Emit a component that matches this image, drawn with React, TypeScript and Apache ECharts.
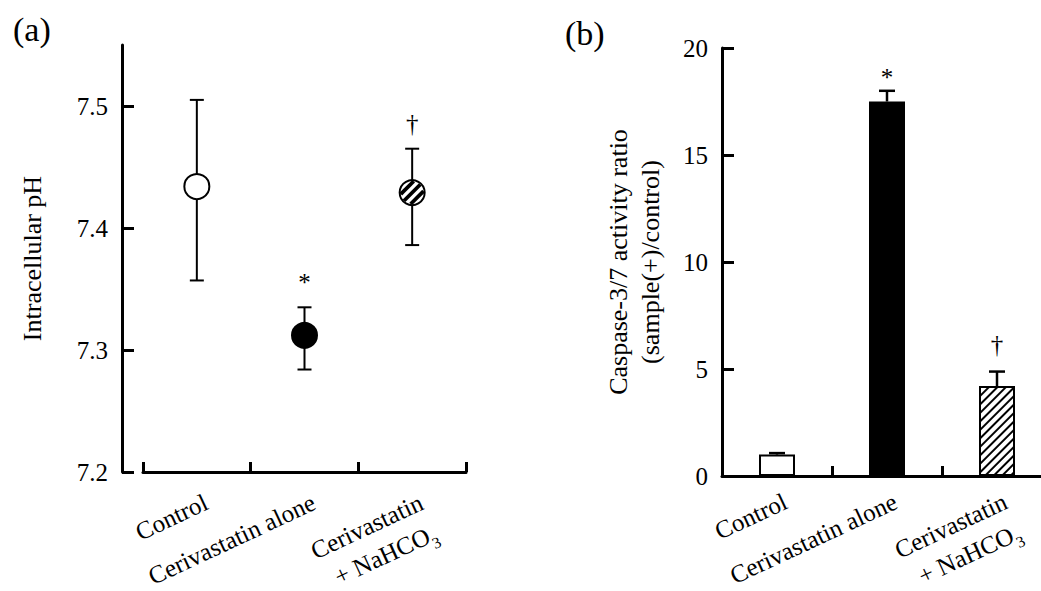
import React, { useEffect, useRef } from 'react';
import * as echarts from 'echarts';

// ---------- data ----------
const categories = ['Control', 'Cerivastatin alone', 'Cerivastatin + NaHCO3'];

// panel (a): intracellular pH (mean, lower / upper end of error bar)
const phMean = [7.434, 7.312, 7.429];
const phLower = [7.357, 7.284, 7.386];
const phUpper = [7.505, 7.335, 7.465];
const phMarks = ['', '*', '†'];
const phTicks = [7.2, 7.3, 7.4, 7.5];

// panel (b): caspase-3/7 activity ratio (mean, upper end of error bar)
const caspaseMean = [1.0, 17.5, 4.2];
const caspaseUpper = [1.07, 18.0, 4.88];
const caspaseMarks = ['', '*', '†'];
const caspaseTicks = [0, 5, 10, 15, 20];

// ---------- styles ----------
const FONT = "'Liberation Serif', 'Times New Roman', Times, serif";
const fills = ['open', 'filled', 'hatched'];

const catFormatter = (v: string) => {
  if (v.indexOf(' + ') >= 0) {
    const [a, b] = v.split(' + ');
    return `{t|${a}}\n{t|+ ${b.slice(0, -1)}}{s|${b.slice(-1)}}`;
  }
  return `{t|${v}}`;
};

const catLabel = (padTop: number, margin: number) => ({
  interval: 0,
  rotate: 25,
  align: 'right',
  verticalAlign: 'top',
  padding: [padTop, 0, 0, 0],
  margin,
  formatter: catFormatter,
  rich: {
    t: { fontSize: 25, fontFamily: FONT, color: '#000', lineHeight: 30 },
    s: { fontSize: 16, fontFamily: FONT, color: '#000', lineHeight: 37, verticalAlign: 'bottom' },
  },
});

const axisLine = { show: true, lineStyle: { color: '#000', width: 3 } };

function hatchedCircle(cx: number, cy: number, r: number) {
  const els: any[] = [
    { type: 'circle', shape: { cx, cy, r }, style: { fill: '#fff', stroke: '#000', lineWidth: 2 } },
  ];
  const inner = r - 1;
  [-7, 0, 7].forEach((s) => {
    const half = Math.sqrt(Math.max(inner * inner - s * s, 0));
    const nx = s / Math.SQRT2;
    const ny = s / Math.SQRT2;
    const dx = half / Math.SQRT2;
    const dy = -half / Math.SQRT2;
    els.push({
      type: 'line',
      shape: { x1: cx + nx - dx, y1: cy + ny - dy, x2: cx + nx + dx, y2: cy + ny + dy },
      style: { stroke: '#000', lineWidth: 3.8 },
    });
  });
  return els;
}

function markText(mark: string, x: number, y: number) {
  return {
    type: 'text',
    style: {
      text: mark,
      x,
      y,
      align: 'center',
      verticalAlign: 'middle',
      fontSize: 25,
      fontFamily: FONT,
      fill: '#000',
    },
  };
}

export default function App() {
  const ref = useRef<HTMLDivElement>(null);

  useEffect(() => {
    if (!ref.current) return;
    const chart = echarts.init(ref.current, undefined, { renderer: 'svg' });

    const option: any = {
      animation: false,
      backgroundColor: '#fff',
      title: [
        { text: '(a)', left: 8, top: 7, textStyle: { fontSize: 34, fontWeight: 'normal', fontFamily: FONT, color: '#000' } },
        { text: '(b)', left: 560, top: 11, textStyle: { fontSize: 34, fontWeight: 'normal', fontFamily: FONT, color: '#000' } },
      ],
      grid: [
        { left: 143, top: 45, width: 323, height: 427, containLabel: false, outerBoundsMode: 'none' },
        { left: 722, top: 48, width: 330, height: 428, containLabel: false, outerBoundsMode: 'none' },
      ],
      xAxis: [
        {
          type: 'category',
          gridIndex: 0,
          data: categories,
          axisLine,
          axisTick: { show: true, inside: true, length: 10, lineStyle: { color: '#000', width: 3 } },
          axisLabel: catLabel(7, 9),
          splitLine: { show: false },
        },
        {
          type: 'category',
          gridIndex: 1,
          data: categories,
          axisLine,
          axisTick: { show: true, inside: true, length: 10, lineStyle: { color: '#000', width: 3 } },
          axisLabel: catLabel(5, 6),
          splitLine: { show: false },
        },
      ],
      yAxis: [
        {
          type: 'value',
          gridIndex: 0,
          min: 7.2,
          max: 7.55,
          interval: 0.1,
          offset: 21,
          name: 'Intracellular pH',
          nameLocation: 'middle',
          nameGap: 77,
          nameTextStyle: { fontSize: 26, fontFamily: FONT, color: '#000' },
          axisLine,
          axisTick: { show: true, inside: true, length: 12, customValues: phTicks, lineStyle: { color: '#000', width: 3 } },
          axisLabel: {
            customValues: phTicks,
            formatter: (v: number) => v.toFixed(1),
            margin: 14,
            fontSize: 25,
            fontFamily: FONT,
            color: '#000',
          },
          splitLine: { show: false },
        },
        {
          type: 'value',
          gridIndex: 1,
          min: 0,
          max: 20,
          interval: 5,
          name: 'Caspase-3/7 activity ratio\n(sample(+)/control)',
          nameLocation: 'middle',
          nameGap: 56,
          nameTextStyle: { fontSize: 26, fontFamily: FONT, color: '#000', lineHeight: 32 },
          axisLine,
          axisTick: { show: true, inside: true, length: 12, customValues: caspaseTicks, lineStyle: { color: '#000', width: 3 } },
          axisLabel: {
            customValues: caspaseTicks,
            margin: 14,
            fontSize: 25,
            fontFamily: FONT,
            color: '#000',
          },
          splitLine: { show: false },
        },
      ],
      series: [
        {
          type: 'custom',
          xAxisIndex: 0,
          yAxisIndex: 0,
          data: categories.map((_, i) => [i, phMean[i], phLower[i], phUpper[i]]),
          renderItem: (params: any, api: any) => {
            const i = api.value(0);
            const c = api.coord([i, api.value(1)]);
            const lo = api.coord([i, api.value(2)]);
            const hi = api.coord([i, api.value(3)]);
            const cap = 7;
            const lw = 2;
            const r = 12.5;
            const children: any[] = [
              { type: 'line', shape: { x1: c[0], y1: lo[1], x2: c[0], y2: hi[1] }, style: { stroke: '#000', lineWidth: lw } },
              { type: 'line', shape: { x1: c[0] - cap, y1: lo[1], x2: c[0] + cap, y2: lo[1] }, style: { stroke: '#000', lineWidth: lw } },
              { type: 'line', shape: { x1: c[0] - cap, y1: hi[1], x2: c[0] + cap, y2: hi[1] }, style: { stroke: '#000', lineWidth: lw } },
            ];
            const f = fills[params.dataIndex];
            if (f === 'hatched') {
              children.push(...hatchedCircle(c[0], c[1], r));
            } else {
              children.push({
                type: 'circle',
                shape: { cx: c[0], cy: c[1], r },
                style: { fill: f === 'filled' ? '#000' : '#fff', stroke: '#000', lineWidth: 2 },
              });
            }
            const mark = phMarks[params.dataIndex];
            if (mark) children.push(markText(mark, c[0], hi[1] - 25));
            return { type: 'group', children };
          },
          z: 5,
        },
        {
          type: 'bar',
          xAxisIndex: 1,
          yAxisIndex: 1,
          barWidth: 36,
          data: caspaseMean.map((v, i) => {
            const f = fills[i];
            const itemStyle: any = { color: f === 'filled' ? '#000' : '#fff', borderColor: '#000', borderWidth: 2 };
            if (f === 'hatched') {
              itemStyle.decal = {
                symbol: 'rect',
                symbolSize: 1,
                dashArrayX: [1, 0],
                dashArrayY: [2, 4],
                rotation: -Math.PI / 4,
                color: '#000',
              };
            }
            return { value: v, itemStyle };
          }),
          z: 2,
        },
        {
          type: 'custom',
          xAxisIndex: 1,
          yAxisIndex: 1,
          data: categories.map((_, i) => [i, caspaseMean[i], caspaseUpper[i]]),
          renderItem: (params: any, api: any) => {
            const i = api.value(0);
            const c = api.coord([i, api.value(1)]);
            const hi = api.coord([i, api.value(2)]);
            const cap = 8;
            const lw = 2.5;
            const children: any[] = [
              { type: 'line', shape: { x1: c[0], y1: c[1], x2: c[0], y2: hi[1] }, style: { stroke: '#000', lineWidth: lw } },
              { type: 'line', shape: { x1: c[0] - cap, y1: hi[1], x2: c[0] + cap, y2: hi[1] }, style: { stroke: '#000', lineWidth: lw } },
            ];
            const mark = caspaseMarks[params.dataIndex];
            if (mark) children.push(markText(mark, c[0], hi[1] - (mark === '*' ? 13 : 27)));
            return { type: 'group', children };
          },
          z: 5,
        },
      ],
    };

    chart.setOption(option);
    return () => chart.dispose();
  }, []);

  return (
    <div
      ref={ref}
      style={{ position: 'fixed', left: 0, top: 0, width: 1041, height: 591, background: '#fff' }}
    />
  );
}
